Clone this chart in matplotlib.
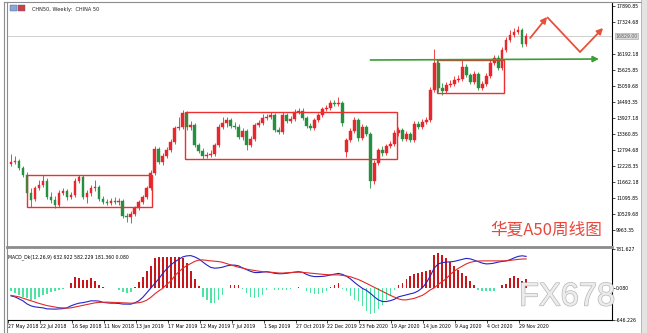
import matplotlib
matplotlib.use("Agg")
import matplotlib.pyplot as plt
import matplotlib.patheffects as pe
from matplotlib.patches import Rectangle

W, H = 647, 333

# weekly CHN50 bars, 27 May 2018 .. Dec 2020
opens = [12300, 12371, 12406, 12158, 11911, 11274, 11061, 11451, 11557, 11698,
         11132, 11026, 10849, 11274, 11344, 11132, 11203, 11698, 11840, 11132,
         11274, 11451, 11486, 11061, 10955, 10920, 10991, 10955, 10991, 10460,
         10424, 10531, 10743, 10955, 11132, 11451, 11981, 12831, 12371, 12583,
         12795, 13078, 13574, 13609, 14105, 13609, 13680, 12972, 12760, 12583,
         12618, 12654, 12972, 13609, 13751, 13857, 13645, 13609, 13255, 13468,
         12972, 13185, 13680, 13751, 13928, 13963, 14034, 13503, 13432, 14034,
         13821, 13892, 14140, 14175, 13928, 13645, 13574, 13857, 14034, 14246,
         14281, 14458, 14423, 14458, 12725, 13149, 13468, 13857, 13220, 13609,
         13361, 11698, 12335, 12795, 12689, 12937, 13008, 13397, 13503, 13185,
         13361, 13149, 13715, 13609, 13786, 13857, 14918, 15874, 14989, 14883,
         15095, 15131, 15272, 15308, 15732, 15449, 15202, 15485, 14989, 15131,
         15414, 15874, 16051, 15697, 16334, 16688, 16865, 16971, 17042, 16546]
highs = [12654, 12583, 12477, 12229, 12017, 11451, 11521, 11734, 11911, 11804,
         11309, 11168, 11380, 11451, 11415, 11309, 11804, 11911, 11911, 11380,
         11557, 11734, 11557, 11168, 11061, 11097, 11132, 11097, 11061, 10566,
         10637, 10814, 11026, 11203, 11521, 12088, 12937, 12901, 12689, 12901,
         13185, 13645, 13963, 14211, 14175, 13821, 13751, 13043, 12866, 12725,
         12795, 13043, 13715, 13963, 13963, 13928, 13786, 13715, 13574, 13538,
         13291, 13751, 13857, 14069, 14069, 14140, 14105, 13609, 14140, 14105,
         13998, 14246, 14281, 14281, 13998, 13751, 13928, 14105, 14317, 14388,
         14565, 14565, 14671, 14529, 13220, 13574, 13963, 13928, 13715, 13680,
         13432, 12441, 12866, 12937, 13008, 13114, 13503, 13609, 13574, 13468,
         13432, 13821, 13821, 13892, 13963, 15025, 16369, 15945, 15166, 15202,
         15272, 15414, 15449, 15980, 15838, 15520, 15591, 15555, 15237, 15520,
         15980, 16157, 16157, 16440, 16794, 17042, 17112, 17183, 17112, 16935]
lows = [12229, 12300, 12088, 11840, 11203, 10778, 10991, 11380, 11486, 11061,
        10920, 10743, 10778, 11203, 11026, 11061, 11132, 11628, 11061, 10920,
        11168, 11344, 10991, 10884, 10849, 10849, 10884, 10849, 10389, 10248,
        10212, 10460, 10672, 10884, 11061, 11380, 11911, 12300, 12265, 12512,
        12725, 13008, 13503, 13538, 13503, 13503, 12901, 12689, 12477, 12512,
        12548, 12583, 12901, 13538, 13609, 13574, 13538, 13185, 13149, 12795,
        12901, 13114, 13609, 13680, 13857, 13892, 13432, 13361, 13361, 13751,
        13751, 13821, 14069, 13857, 13574, 13503, 13503, 13786, 13963, 14175,
        14211, 14352, 14352, 13645, 12548, 13078, 13397, 13114, 13149, 13291,
        11451, 11592, 12265, 12583, 12618, 12866, 12937, 13291, 13114, 13114,
        13078, 13078, 13538, 13538, 13715, 13786, 14848, 14848, 14742, 14812,
        15025, 15060, 15202, 15237, 15378, 15131, 15131, 14918, 14918, 15060,
        15343, 15803, 15626, 15626, 16263, 16617, 16794, 16900, 16440, 16475]
closes = [12371, 12406, 12158, 11911, 11274, 11026, 11451, 11557, 11698, 11132,
          11026, 10849, 11274, 11344, 11132, 11203, 11698, 11840, 11132, 11274,
          11451, 11486, 11061, 10955, 10920, 10991, 10955, 10991, 10460, 10424,
          10531, 10743, 10955, 11132, 11451, 11981, 12831, 12371, 12583, 12795,
          13078, 13574, 13609, 14105, 13609, 13680, 12972, 12760, 12583, 12618,
          12654, 12972, 13609, 13751, 13857, 13645, 13609, 13255, 13468, 12972,
          13185, 13680, 13751, 13928, 13963, 14034, 13503, 13432, 14034, 13821,
          13892, 14140, 14175, 13928, 13645, 13574, 13857, 14034, 14246, 14281,
          14458, 14423, 14458, 13751, 13149, 13468, 13857, 13220, 13609, 13361,
          11698, 12335, 12795, 12689, 12937, 13008, 13397, 13503, 13185, 13361,
          13149, 13715, 13609, 13786, 13857, 14918, 15874, 14989, 14883, 15095,
          15131, 15272, 15308, 15732, 15449, 15202, 15485, 14989, 15131, 15414,
          15874, 16051, 15697, 16334, 16688, 16865, 16971, 17042, 16546, 16829]

# MACD_Dk(12,26,9) sub window
macd = [-161, -181, -221, -261, -322, -362, -382, -392, -402, -422,
        -426, -428, -424, -418, -402, -362, -332, -308, -297, -281,
        -261, -261, -265, -291, -301, -308, -308, -314, -326, -328,
        -328, -301, -261, -191, -100, -6, 90, 181, 291, 382,
        462, 523, 573, 623, 643, 649, 623, 583, 523, 462,
        412, 396, 402, 416, 442, 456, 458, 442, 402, 366,
        332, 308, 308, 316, 326, 312, 293, 285, 285, 293,
        306, 316, 326, 312, 271, 241, 227, 227, 231, 241,
        261, 277, 291, 271, 235, 181, 111, 48, -10, -50,
        -111, -181, -241, -275, -275, -257, -231, -181, -161, -141,
        -121, -100, -60, 0, 100, 241, 402, 482, 507, 519,
        523, 533, 553, 573, 593, 583, 557, 527, 498, 482,
        486, 498, 519, 531, 543, 567, 603, 633, 645, 633]
signal = [-151, -165, -181, -207, -235, -261, -287, -312, -334, -356,
          -372, -386, -398, -404, -408, -402, -386, -372, -352, -334,
          -318, -302, -293, -289, -287, -289, -293, -297, -302, -306,
          -308, -306, -299, -281, -247, -191, -121, -60, -10, 70,
          135, 241, 322, 392, 448, 488, 533, 557, 563, 553,
          543, 537, 529, 513, 488, 462, 438, 416, 398, 376,
          362, 348, 336, 326, 320, 316, 308, 299, 297, 304,
          308, 312, 316, 312, 304, 295, 287, 279, 273, 267,
          261, 261, 261, 251, 237, 223, 195, 167, 131, 90,
          50, 10, -30, -70, -111, -151, -185, -221, -241, -241,
          -227, -211, -181, -151, -100, -40, 0, 70, 127, 185,
          271, 336, 392, 438, 482, 513, 531, 539, 543, 543,
          543, 543, 543, 543, 543, 553, 563, 573, 580, 582]
hist = [-70, -100, -140, -175, -210, -240, -225, -190, -150, -115,
        -85, -60, -40, -25, -10, 95, 225, 195, 165, 160,
        190, 130, 60, 10, -5, 5, -5, -50, -90, -100,
        -80, 25, 110, 220, 330, 430, 610, 630, 630, 630,
        630, 630, 630, 600, 500, 330, 180, 30, -175, -240,
        -305, -305, -240, -140, 5, 55, 55, 55, -30, -110,
        -175, -205, -175, -140, -40, -5, -35, -35, -35, -35,
        -20, 5, 10, -10, -55, -100, -120, -120, -100, -65,
        20, 65, 100, -20, -70, -170, -235, -270, -370, -470,
        -535, -500, -435, -335, -235, -135, -50, 65, 100, 170,
        235, 270, 290, 310, 330, 360, 660, 700, 665, 600,
        530, 430, 360, 295, 230, 130, 60, -35, -65, -65,
        -65, -55, 5, 60, 75, 195, 230, 195, 140, 181]

date_labels = ["27 May 2018", "22 Jul 2018", "16 Sep 2018", "11 Nov 2018",
               "13 Jan 2019", "17 Mar 2019", "12 May 2019", "7 Jul 2019",
               "1 Sep 2019", "27 Oct 2019", "22 Dec 2019", "23 Feb 2020",
               "19 Apr 2020", "14 Jun 2020", "9 Aug 2020", "4 Oct 2020",
               "29 Nov 2020"]
price_ticks = [9963.35, 10529.68, 11095.85, 11662.18, 12228.35, 12794.68,
               13360.85, 13927.18, 14493.35, 15059.68, 15625.85, 16192.18,
               17324.68, 17890.85]
macd_ticks = [-646.226, 0.080, 781.627]
macd_tick_labels = ["-646.226", "0.080", "781.627"]

UP = "#e8262b"
DOWN = "#23913f"
BOX = "#ec2f2f"
SMALL = 3.3

fig = plt.figure(figsize=(W / 100, H / 100), dpi=100)
fig.patch.set_facecolor("white")


def frac(x0, y0, x1, y1):
    return [x0 / W, 1 - y1 / H, (x1 - x0) / W, (y1 - y0) / H]


ax = fig.add_axes(frac(8, 3, 612, 245))
ax2 = fig.add_axes(frac(8, 249, 612, 320), sharex=ax)

n = len(closes)
xs = list(range(n))
for a in (ax, ax2):
    a.set_facecolor("white")
    for s in ("top", "left", "bottom"):
        a.spines[s].set_visible(False)
    a.spines["right"].set_linewidth(0.8)
    a.yaxis.tick_right()
    a.tick_params(axis="y", length=2, width=0.5, labelsize=SMALL, pad=1)

# candles
for i in xs:
    o, h, l, c = opens[i], highs[i], lows[i], closes[i]
    col = UP if c >= o else DOWN
    ax.vlines(i, l, h, color=col, lw=0.6, zorder=2)
    body = max(abs(c - o), 12)
    ax.bar(i, body, bottom=min(o, c), width=0.66, color=col,
           edgecolor=col, lw=0.3, zorder=3)

ax.set_xlim(-0.5, 150.5)
ax.set_ylim(9433.6, 17997.0)
ax.set_yticks(price_ticks)
ax.set_yticklabels([f"{v:.2f}" for v in price_ticks])
ax.tick_params(axis="x", bottom=False, labelbottom=False)

# bid line and last price tag
ax.axhline(closes[-1], color="#c8c8c8", lw=0.6, zorder=1)
ax.annotate(f"{closes[-1]:.2f}", xy=(1, closes[-1]),
            xycoords=("axes fraction", "data"), xytext=(2.5, 0),
            textcoords="offset points", va="center", ha="left",
            fontsize=SMALL, color="#606060",
            bbox=dict(boxstyle="square,pad=0.15", fc="#d8d8d8",
                      ec="#a0a0a0", lw=0.4), annotation_clip=False)

# consolidation boxes
for x0, x1, y0, y1 in [(4.0, 35.25, 10778, 11911),
                       (43.5, 96.75, 12477, 14140),
                       (106.75, 123.5, 14812, 15980)]:
    ax.add_patch(Rectangle((x0, y0), x1 - x0, y1 - y0, fill=False,
                           ec=BOX, lw=1.0, zorder=4))

# support line
ax.annotate("", xy=(147.2, 16015), xytext=(90, 15980),
            arrowprops=dict(arrowstyle="-|>,head_length=0.35,head_width=0.18",
                            color="#3c9c35", lw=1.2, shrinkA=0, shrinkB=0),
            zorder=5)

# projected path
zig = [(130, 16758), (134.25, 17501), (142.5, 16263), (148.25, 17112)]
ax.annotate("", xy=zig[1], xytext=zig[0],
            arrowprops=dict(arrowstyle="-|>,head_length=0.35,head_width=0.18",
                            color="#e8503c", lw=1.3, shrinkA=0, shrinkB=0))
ax.plot([zig[1][0], zig[2][0]], [zig[1][1], zig[2][1]], color="#e8503c",
        lw=1.3, solid_capstyle="butt")
ax.annotate("", xy=zig[3], xytext=zig[2],
            arrowprops=dict(arrowstyle="-|>,head_length=0.35,head_width=0.18",
                            color="#e8503c", lw=1.3, shrinkA=0, shrinkB=0))

ax.text(0.0395, 0.985, "CHN50, Weekly:  CHINA 50", transform=ax.transAxes,
        fontsize=3.6, va="top", ha="left", color="#202020")
fig.patches.append(Rectangle((10 / W, 1 - 11 / H), 7 / W, 6 / H,
                             transform=fig.transFigure, fc="#8aa6d6",
                             ec="#4060a0", lw=0.3))
fig.patches.append(Rectangle((18 / W, 1 - 11 / H), 7 / W, 6 / H,
                             transform=fig.transFigure, fc="#d04040",
                             ec="#4060a0", lw=0.3))

ax.text(0.799, 0.064, "华夏A50周线图", transform=ax.transAxes,
        fontsize=12, color="#e8473c", ha="left", va="center",
        family=["Noto Sans CJK SC", "DejaVu Sans"])

# MACD panel
hist_cols = ["#c8161b" if v >= 0 else "#4de3a2" for v in hist]
ax2.bar(xs, hist, width=0.42, color=hist_cols, lw=0, zorder=2)
ax2.plot(xs, macd, color="#2424c8", lw=0.8, zorder=3)
ax2.plot(xs, signal, color="#e02a2a", lw=0.8, zorder=3)
ax2.set_ylim(-646.226, 781.627)
ax2.set_yticks(macd_ticks)
ax2.set_yticklabels(macd_tick_labels)
ax2.spines["bottom"].set_visible(True)
ax2.spines["bottom"].set_linewidth(0.8)
ax2.set_xticks([8 * j - 0.75 for j in range(len(date_labels))])
ax2.set_xticklabels(date_labels, ha="left")
ax2.tick_params(axis="x", length=2, width=0.5, labelsize=SMALL, pad=1)
ax2.text(0.0, 0.93, "MACD_Dk(12,26,9) 632.922 582.229 181.360 0.080",
         transform=ax2.transAxes, fontsize=SMALL, va="top", ha="left")

# window chrome
fig.add_artist(plt.Line2D([4 / W, 4 / W], [0, 1 - 2 / H], color="#8c8c8c", lw=0.8))
fig.add_artist(plt.Line2D([7 / W, 7 / W], [0, 1 - 2 / H], color="#8c8c8c", lw=0.8))
fig.add_artist(plt.Line2D([4 / W, 641 / W], [1 - 2 / H, 1 - 2 / H], color="#8c8c8c", lw=0.8))
fig.add_artist(plt.Line2D([7 / W, 612 / W], [1 - 247 / H, 1 - 247 / H], color="#8c8c8c", lw=2.0))
fig.patches.append(Rectangle((641 / W, 0), 6 / W, 1, transform=fig.transFigure,
                             fc="#e4e4e4", ec="none"))
fig.add_artist(plt.Line2D([641 / W, 641 / W], [0, 1], color="#b0b0b0", lw=0.6))

fig.text(519 / W, 1 - 297 / H, "FX678", fontsize=23.5, color="#ececec",
         family="Liberation Sans", ha="left", va="center",
         path_effects=[pe.withStroke(linewidth=1.0, foreground="#b8b8b8")])

fig.savefig("out.png", dpi=100)
